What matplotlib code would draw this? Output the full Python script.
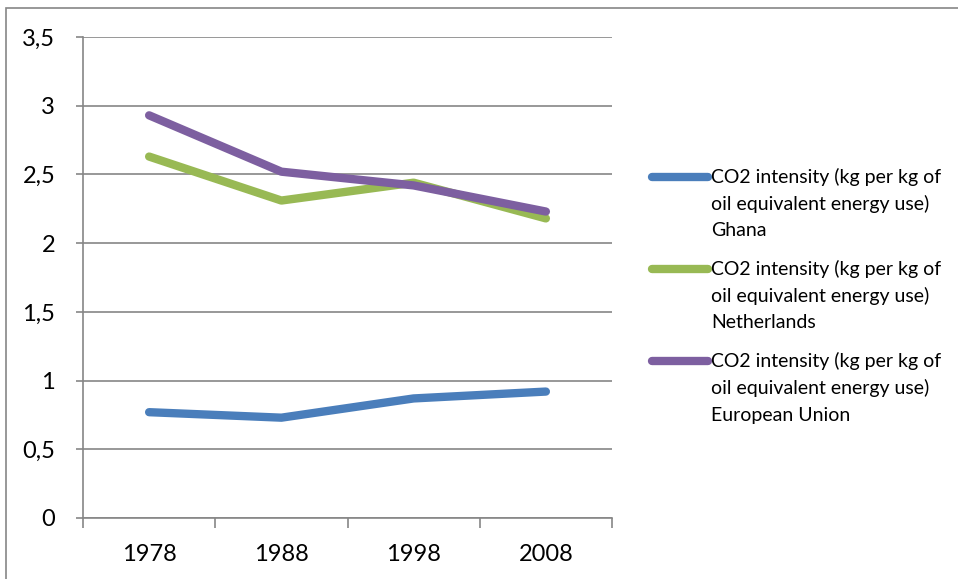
import matplotlib.pyplot as plt
from matplotlib.patches import Rectangle
from matplotlib.lines import Line2D
import numpy as np

years = ["1978", "1988", "1998", "2008"]
ghana = [0.77, 0.73, 0.87, 0.92]
netherlands = [2.63, 2.31, 2.44, 2.18]
eu = [2.93, 2.52, 2.42, 2.23]

labels = [
    "CO2 intensity (kg per kg of\noil equivalent energy use)\nGhana",
    "CO2 intensity (kg per kg of\noil equivalent energy use)\nNetherlands",
    "CO2 intensity (kg per kg of\noil equivalent energy use)\nEuropean Union",
]
colors = ["#4a7ebb", "#98b954", "#7d5fa0"]
series = [ghana, netherlands, eu]

plt.rcParams['font.family'] = ['Lato', 'DejaVu Sans']
grey = "#868686"
W, H = 958, 579

fig = plt.figure(figsize=(W / 100, H / 100), dpi=100)
ax = fig.add_axes([83 / W, 1 - 518 / H, (612 - 83) / W, (518 - 37) / H])

x = np.arange(len(years))
for vals, col, lab in zip(series, colors, labels):
    ax.plot(x, vals, color=col, lw=6, solid_capstyle='round', label=lab)

ax.set_xlim(-0.5, len(years) - 0.5)
ax.set_ylim(0, 3.5)
yt = np.arange(0, 3.51, 0.5)
ax.set_yticks(yt)
ax.set_yticklabels([f"{v:g}".replace('.', ',') for v in yt])
ax.set_xticks(x)
ax.set_xticklabels(years)
ax.set_xticks(np.arange(-0.5, len(years)), minor=True)

ax.grid(axis='y', color=grey, lw=1.2)
ax.set_axisbelow(True)
for s in ['top', 'right']:
    ax.spines[s].set_visible(False)
for s in ['left', 'bottom']:
    ax.spines[s].set_color(grey)
    ax.spines[s].set_linewidth(1.2)

ax.tick_params(axis='y', length=5, color=grey, width=1.2, labelsize=17, pad=15)
ax.tick_params(axis='x', which='major', length=0, labelsize=17, pad=19)
ax.tick_params(axis='x', which='minor', length=7, color=grey, width=1.2)

# legend drawn by hand so the key sits on the first text line, like Excel
entry_top = 177
entry_step = 92
line_step = 27
for i, (col, lab) in enumerate(zip(colors, labels)):
    yc = entry_top + i * entry_step
    fig.add_artist(Line2D([652 / W, 708 / W], [1 - yc / H, 1 - yc / H],
                          transform=fig.transFigure, color=col, lw=6,
                          solid_capstyle='round'))
    for j, part in enumerate(lab.split("\n")):
        fig.text(711 / W, 1 - (yc + j * line_step) / H, part, fontsize=14,
                 va='center', ha='left')

fig.patches.append(Rectangle((6 / W, -0.1), 1.0, 1 - 8 / H + 0.1,
                             transform=fig.transFigure, fill=False,
                             edgecolor=grey, lw=1.2))

fig.savefig("out.png", dpi=100)
